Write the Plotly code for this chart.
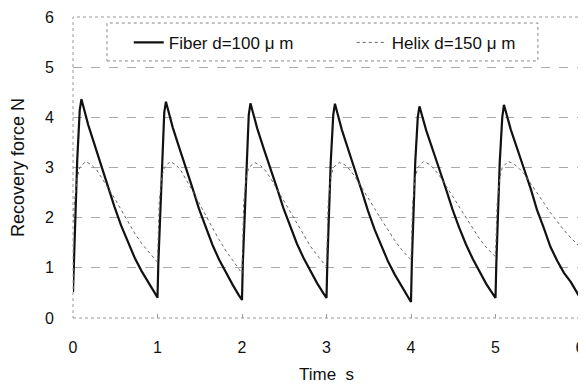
import plotly.graph_objects as go

# ---- data ----
cycle_starts = [0, 1, 2, 3, 4, 5]

fiber_offsets = [0.0, 0.01, 0.03, 0.05, 0.08, 0.10, 0.18, 0.26, 0.34, 0.42,
                 0.49, 0.57, 0.65, 0.73, 0.81, 0.89, 0.96, 0.995]
fiber_c1 = [0.52, 1.15, 2.0, 3.15, 4.15, 4.36, 3.85, 3.42, 3.02, 2.60, 2.22, 1.84, 1.50, 1.20, 0.94, 0.70, 0.52, 0.42]
fiber_c2 = [0.42, 1.10, 2.0, 3.10, 4.10, 4.31, 3.80, 3.38, 2.98, 2.56, 2.18, 1.80, 1.46, 1.16, 0.90, 0.66, 0.46, 0.36]
fiber_c3 = [0.36, 1.10, 2.0, 3.10, 4.05, 4.28, 3.78, 3.36, 2.97, 2.56, 2.19, 1.82, 1.48, 1.19, 0.93, 0.69, 0.50, 0.40]
fiber_c4 = [0.40, 1.10, 2.0, 3.10, 4.05, 4.27, 3.76, 3.33, 2.93, 2.52, 2.14, 1.76, 1.42, 1.12, 0.86, 0.62, 0.42, 0.32]
fiber_c5 = [0.32, 1.10, 2.0, 3.10, 4.00, 4.22, 3.74, 3.32, 2.94, 2.54, 2.17, 1.80, 1.47, 1.18, 0.92, 0.68, 0.50, 0.40]
fiber_c6 = [0.40, 1.10, 2.0, 3.10, 4.00, 4.25, 3.76, 3.34, 2.96, 2.56, 2.16, 1.80, 1.42, 1.14, 0.90, 0.72, 0.52, 0.42]
fiber_end_t = [6.0]
fiber_end_v = [1.0]

helix_offsets = [0.0, 0.02, 0.05, 0.08, 0.15, 0.22, 0.28, 0.34, 0.42, 0.49,
                 0.57, 0.65, 0.73, 0.81, 0.89, 0.96, 0.995]
helix_c1 = [1.90, 2.35, 2.80, 3.00, 3.12, 3.05, 2.95, 2.80, 2.58, 2.39, 2.15, 1.92, 1.69, 1.49, 1.32, 1.19, 1.12]
helix_c2 = [1.12, 2.30, 2.80, 3.00, 3.12, 3.05, 2.93, 2.76, 2.52, 2.30, 2.04, 1.80, 1.56, 1.34, 1.15, 0.98, 0.89]
helix_c3 = [0.89, 2.30, 2.80, 3.00, 3.10, 3.04, 2.93, 2.78, 2.55, 2.34, 2.10, 1.87, 1.64, 1.43, 1.25, 1.10, 1.02]
helix_c4 = [1.02, 2.30, 2.80, 3.00, 3.10, 3.05, 2.95, 2.81, 2.60, 2.40, 2.18, 1.96, 1.74, 1.54, 1.36, 1.22, 1.16]
helix_c5 = [1.16, 2.30, 2.80, 3.00, 3.12, 3.06, 2.96, 2.83, 2.62, 2.43, 2.21, 2.00, 1.78, 1.58, 1.41, 1.28, 1.22]
helix_c6 = [1.22, 2.30, 2.80, 3.00, 3.12, 3.07, 2.98, 2.87, 2.68, 2.50, 2.30, 2.10, 1.92, 1.75, 1.60, 1.48, 1.42]

x_ticks = [0, 1, 2, 3, 4, 5, 6]
y_ticks = [0, 1, 2, 3, 4, 5, 6]

fiber_cycles = [fiber_c1, fiber_c2, fiber_c3, fiber_c4, fiber_c5, fiber_c6]
helix_cycles = [helix_c1, helix_c2, helix_c3, helix_c4, helix_c5, helix_c6]

fiber_t, fiber_v = [], []
for s, vals in zip(cycle_starts, fiber_cycles):
    fiber_t += [s + o for o in fiber_offsets]
    fiber_v += vals
fiber_t += fiber_end_t
fiber_v += fiber_end_v

helix_t, helix_v = [], []
for s, vals in zip(cycle_starts, helix_cycles):
    helix_t += [s + o for o in helix_offsets]
    helix_v += vals

FONT = "Liberation Sans, Arial, sans-serif"
NB = "\u00a0"

fig = go.Figure()
fig.add_trace(go.Scatter(x=fiber_t, y=fiber_v, mode="lines", name="Fiber d=100" + NB + "μ" + NB + "m",
                         line=dict(color="#111111", width=2.2)))
fig.add_trace(go.Scatter(x=helix_t, y=helix_v, mode="lines", name="Helix d=150" + NB + "μ" + NB + "m",
                         line=dict(color="#666666", width=1, dash="dot")))

# the page body has an 8px margin, so the figure is drawn 8px smaller
fig.update_layout(
    width=578, height=376,
    margin=dict(l=65, r=6, t=9, b=66),
    paper_bgcolor="white", plot_bgcolor="white",
    font=dict(family=FONT, size=16, color="#111111"),
    showlegend=True,
    legend=dict(orientation="h", x=0.11, y=0.914, xanchor="left", yanchor="middle",
                bgcolor="rgba(0,0,0,0)", borderwidth=0,
                entrywidth=178, entrywidthmode="pixels", tracegroupgap=0,
                font=dict(family=FONT, size=17, color="#111111")),
    xaxis=dict(range=[0, 6], tickvals=x_ticks, showgrid=False, zeroline=False,
               automargin=False,
               ticks="inside", ticklen=4, tickcolor="#999999", tickwidth=1,
               ticklabelstandoff=18,
               title=dict(text="Time" + NB + NB + "s", standoff=14, font=dict(size=17)),
               tickfont=dict(size=16)),
    yaxis=dict(range=[0, 6], tickvals=y_ticks, showgrid=True, gridcolor="#aaaaaa",
               griddash="dash", gridwidth=1, zeroline=False, ticks="",
               automargin=False,
               ticklabelstandoff=18,
               title=dict(text="Recovery force N", standoff=20, font=dict(size=18)),
               tickfont=dict(size=16)),
    shapes=[
        dict(type="rect", xref="paper", yref="paper", x0=0, x1=1, y0=0, y1=1,
             line=dict(color="#999999", width=1, dash="dot"), layer="above"),
        dict(type="rect", xref="paper", yref="paper", x0=0.067, x1=0.917, y0=0.854, y1=0.980,
             line=dict(color="#888888", width=1, dash="dot"), fillcolor="white", layer="below"),
    ],
)

fig.write_html("out.html")
